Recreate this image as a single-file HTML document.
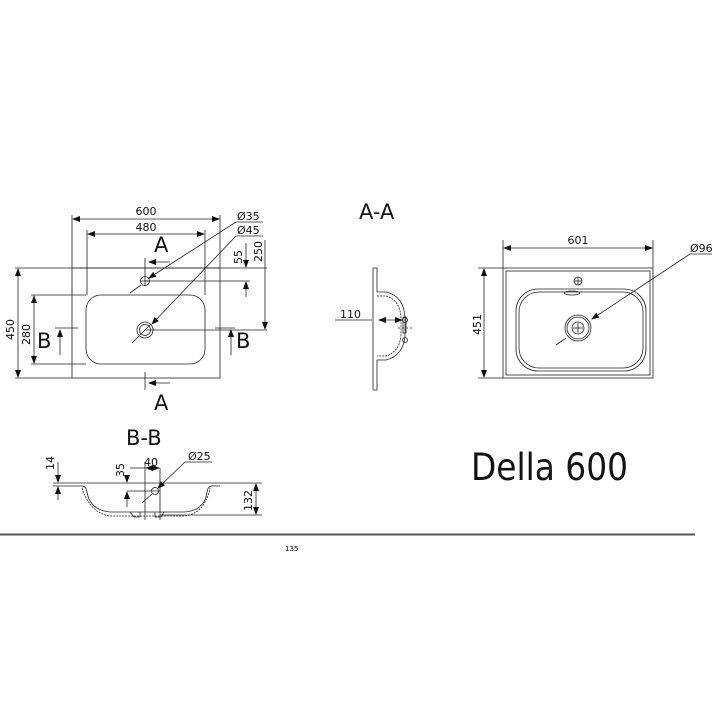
<!DOCTYPE html>
<html><head><meta charset="utf-8"><style>
html,body{margin:0;padding:0;background:#fff}
svg{display:block}
text{font-family:"DejaVu Sans","Liberation Sans",sans-serif;fill:#111}
</style></head><body>
<svg width="720" height="720" viewBox="0 0 720 720" xmlns="http://www.w3.org/2000/svg">
<defs>
<marker id="ar" markerWidth="8" markerHeight="6" refX="7" refY="3" orient="auto-start-reverse" markerUnits="userSpaceOnUse"><path d="M0,0 L8,3 L0,6 z" fill="#111"/></marker>
</defs>
<g stroke="#222" stroke-width="0.8" fill="none">
<rect x="72" y="268" width="148" height="110"/>
<rect x="86" y="295" width="119" height="69" rx="15"/>
<circle cx="145" cy="281" r="4.5"/><line x1="140" y1="281" x2="150" y2="281"/><line x1="145" y1="276" x2="145" y2="286"/>
<circle cx="145" cy="330" r="8"/><circle cx="145" cy="330" r="5.5"/><line x1="140" y1="335" x2="150" y2="325"/>
<line x1="15" y1="268" x2="267" y2="268"/>
<line x1="72" y1="215" x2="72" y2="268"/><line x1="220" y1="215" x2="220" y2="268"/>
<line x1="87" y1="230" x2="87" y2="295"/><line x1="205" y1="230" x2="205" y2="295"/>
<line x1="73" y1="219" x2="219" y2="219" marker-start="url(#ar)" marker-end="url(#ar)"/>
<line x1="88" y1="234" x2="204" y2="234" marker-start="url(#ar)" marker-end="url(#ar)"/>
<line x1="18" y1="269" x2="18" y2="377" marker-start="url(#ar)" marker-end="url(#ar)"/>
<line x1="15" y1="378" x2="72" y2="378"/>
<line x1="31" y1="295" x2="86" y2="295"/><line x1="31" y1="364" x2="86" y2="364"/>
<line x1="34" y1="296" x2="34" y2="363" marker-start="url(#ar)" marker-end="url(#ar)"/>
<line x1="145" y1="281" x2="250" y2="281"/><line x1="145" y1="330" x2="267" y2="330"/>
<line x1="265" y1="240" x2="265" y2="329" marker-end="url(#ar)"/>
<line x1="246" y1="243" x2="246" y2="267" marker-end="url(#ar)"/>
<line x1="246" y1="297" x2="246" y2="282" marker-end="url(#ar)"/>
<line x1="145" y1="258" x2="145" y2="276"/><line x1="170" y1="262" x2="149" y2="262" marker-end="url(#ar)"/>
<line x1="145" y1="372" x2="145" y2="390"/><line x1="170" y1="383" x2="149" y2="383" marker-end="url(#ar)"/>
<line x1="60" y1="355" x2="60" y2="330" marker-end="url(#ar)"/><line x1="55" y1="328" x2="78" y2="328"/>
<line x1="231" y1="355" x2="231" y2="330" marker-end="url(#ar)"/><line x1="215" y1="328" x2="235" y2="328"/>
<polyline points="263,222 236,222 149,278" marker-end="url(#ar)"/>
<line x1="130" y1="293" x2="141" y2="285"/>
<polyline points="263,236 236,236 152,324" marker-end="url(#ar)"/>
<line x1="132" y1="343" x2="139" y2="336"/>
<path d="M373,268 L377,268 L377,292 L386,292 Q404,296 405,318 L405,336 Q403,356 386,360 L377,360 L377,390 L373,390 Z"/>
<path d="M377,296 L386,296 Q400,300 401,318 L401,336 Q399,352 386,356 L377,356" stroke-dasharray="2 1"/>
<line x1="335" y1="320" x2="372" y2="320"/>
<line x1="379" y1="320" x2="402" y2="320" marker-start="url(#ar)" marker-end="url(#ar)"/>
<rect x="403" y="317" width="3" height="16"/><circle cx="405" cy="320" r="2.5"/><circle cx="405" cy="340" r="2.5"/>
<line x1="398" y1="328" x2="412" y2="328" stroke-dasharray="2 2"/>
<rect x="503" y="268" width="150" height="110"/>
<rect x="506" y="271" width="144" height="104"/>
<rect x="516" y="289" width="130" height="82" rx="22"/>
<rect x="519" y="292" width="124" height="76" rx="20"/>
<ellipse cx="572" cy="293" rx="8" ry="2"/>
<circle cx="578" cy="281" r="4"/><line x1="574" y1="281" x2="582" y2="281"/><line x1="578" y1="277" x2="578" y2="285"/>
<circle cx="578" cy="328" r="13"/><circle cx="578" cy="328" r="11"/><circle cx="578" cy="328" r="6"/>
<line x1="573" y1="328" x2="583" y2="328"/><line x1="578" y1="323" x2="578" y2="333"/>
<line x1="503" y1="240" x2="503" y2="268"/><line x1="653" y1="240" x2="653" y2="268"/>
<line x1="504" y1="248" x2="652" y2="248" marker-start="url(#ar)" marker-end="url(#ar)"/>
<line x1="478" y1="268" x2="503" y2="268"/><line x1="478" y1="378" x2="503" y2="378"/>
<line x1="484" y1="269" x2="484" y2="377" marker-start="url(#ar)" marker-end="url(#ar)"/>
<polyline points="712,254 690,254 592,319" marker-end="url(#ar)"/>
<line x1="556" y1="345" x2="566" y2="338"/>
<path d="M70,483 L220,483"/>
<path d="M70,486 L82,486 Q86,486 87,492 Q90,510 110,512 L185,512 Q205,510 207,492 Q208,486 212,486 L220,486"/>
<path d="M82,488 Q90,513 110,516 L185,516 Q205,513 210,488" stroke-dasharray="2 1"/>
<path d="M130,512 l4,5 l6,0 l0,-5 M155,512 l0,5 l6,0 l3,-5"/>
<line x1="53" y1="483" x2="70" y2="483"/><line x1="53" y1="486" x2="70" y2="486"/>
<line x1="58" y1="462" x2="58" y2="482" marker-end="url(#ar)"/><line x1="58" y1="500" x2="58" y2="487" marker-end="url(#ar)"/>
<line x1="127" y1="476" x2="127" y2="482" marker-end="url(#ar)"/><line x1="127" y1="507" x2="127" y2="492" marker-end="url(#ar)"/>
<line x1="127" y1="491" x2="160" y2="491"/>
<line x1="145" y1="462" x2="145" y2="520"/><line x1="145" y1="468" x2="130" y2="468"/>
<line x1="160" y1="468" x2="160" y2="520"/>
<line x1="146" y1="468" x2="159" y2="468" marker-start="url(#ar)" marker-end="url(#ar)"/>
<circle cx="155" cy="491" r="3.5"/>
<polyline points="212,462 185,462 158,488" marker-end="url(#ar)"/>
<line x1="142" y1="503" x2="152" y2="494"/>
<line x1="220" y1="483" x2="262" y2="483"/><line x1="160" y1="515" x2="262" y2="515"/>
<line x1="256" y1="484" x2="256" y2="514" marker-start="url(#ar)" marker-end="url(#ar)"/>
</g>
<line x1="0" y1="534.5" x2="695" y2="534.5" stroke="#555" stroke-width="2"/>
<g font-size="11">
<text x="146" y="215" text-anchor="middle">600</text>
<text x="146" y="231" text-anchor="middle">480</text>
<text x="237" y="220">Ø35</text>
<text x="237" y="234">Ø45</text>
<text x="242" y="264" transform="rotate(-90 242 264)">55</text>
<text x="262" y="262" transform="rotate(-90 262 262)">250</text>
<text x="14" y="340" transform="rotate(-90 14 340)">450</text>
<text x="30" y="345" transform="rotate(-90 30 345)">280</text>
<text x="340" y="318">110</text>
<text x="578" y="244" text-anchor="middle">601</text>
<text x="690" y="252">Ø96</text>
<text x="481" y="335" transform="rotate(-90 481 335)">451</text>
<text x="54" y="470" transform="rotate(-90 54 470)">14</text>
<text x="124" y="477" transform="rotate(-90 124 477)">35</text>
<text x="144" y="466">40</text>
<text x="188" y="460">Ø25</text>
<text x="252" y="511" transform="rotate(-90 252 511)">132</text>
</g>
<g font-size="21">
<text x="154" y="252">A</text>
<text x="154" y="410">A</text>
<text x="37" y="348">B</text>
<text x="236" y="348">B</text>
<text x="359" y="219">A-A</text>
<text x="126" y="445">B-B</text>
</g>
<text x="471" y="480" font-size="37" textLength="157" lengthAdjust="spacingAndGlyphs">Della 600</text>
<text x="285" y="551" font-size="7" fill="#aaa">135</text>
</svg>
</body></html>
